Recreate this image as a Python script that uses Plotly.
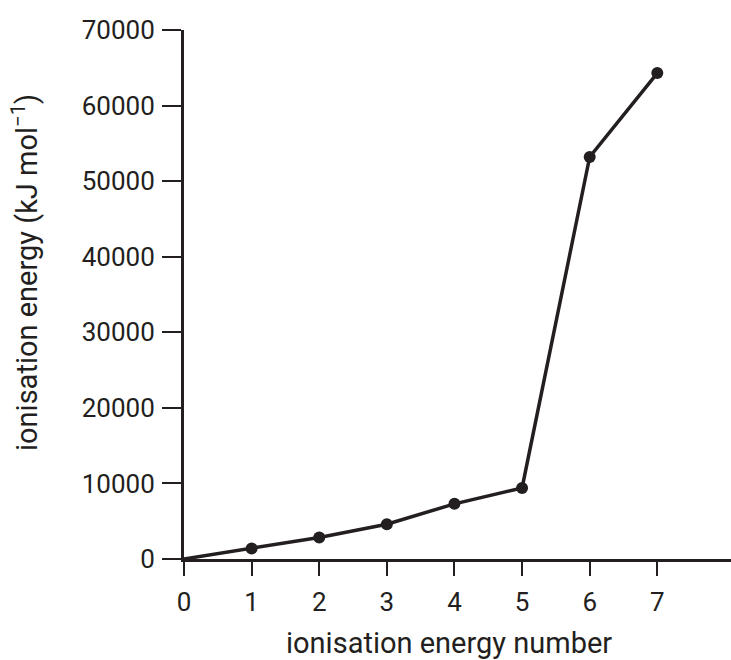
import plotly.graph_objects as go

ie_number = [0, 1, 2, 3, 4, 5, 6, 7]
ie_value = [0, 1400, 2850, 4600, 7300, 9400, 53200, 64300]
x_ticks = [0, 1, 2, 3, 4, 5, 6, 7]
y_ticks = [0, 10000, 20000, 30000, 40000, 50000, 60000, 70000]

INK = "#231f20"
FONT = "Roboto"

fig = go.Figure()
fig.add_trace(go.Scatter(
    x=ie_number, y=ie_value, mode="lines",
    line=dict(color=INK, width=3.5),
    cliponaxis=False, showlegend=False, hoverinfo="skip",
))
fig.add_trace(go.Scatter(
    x=ie_number[1:], y=ie_value[1:], mode="markers",
    marker=dict(color=INK, size=12, line=dict(width=0)),
    cliponaxis=False, showlegend=False, hoverinfo="x+y",
))

fig.update_layout(
    width=731, height=660,
    margin=dict(l=184, r=0, t=30, b=101),
    paper_bgcolor="white", plot_bgcolor="white",
    font=dict(family=FONT, color=INK, size=26),
    xaxis=dict(
        range=[0, 8.09], tickvals=x_ticks, ticktext=[str(v) for v in x_ticks],
        showline=True, linewidth=3, linecolor=INK,
        ticks="outside", ticklen=14, tickwidth=2, tickcolor=INK,
        showgrid=False, zeroline=False, ticklabelstandoff=4,
        tickfont=dict(size=26),
    ),
    yaxis=dict(
        range=[0, 70000], tickvals=y_ticks, ticktext=[str(v) for v in y_ticks],
        showline=True, linewidth=3, linecolor=INK,
        ticks="outside", ticklen=19, tickwidth=2, tickcolor=INK,
        showgrid=False, zeroline=False, ticklabelstandoff=2,
        tickfont=dict(size=26),
    ),
    annotations=[
        dict(text="ionisation energy number", xref="paper", yref="paper",
             x=(449 - 184) / 547, y=-(643 - 559) / 529, showarrow=False,
             xanchor="center", yanchor="middle", font=dict(size=29)),
        dict(text="ionisation energy (kJ mol<sup>−1</sup>)", xref="paper", yref="paper",
             x=-(184 - 25) / 547, y=(559 - 273) / 529, showarrow=False, textangle=-90,
             xanchor="center", yanchor="middle", font=dict(size=29)),
    ],
)

fig.write_html(
    "out.html",
    config={"displayModeBar": False},
    post_script="document.body.style.margin='0';document.body.style.overflow='hidden';",
)
